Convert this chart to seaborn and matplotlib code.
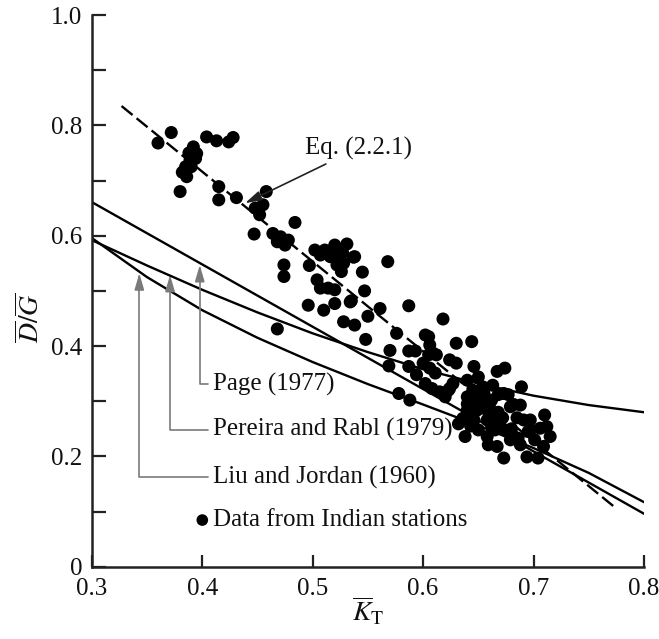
import matplotlib
matplotlib.use("Agg")
import matplotlib.pyplot as plt
import seaborn as sns
import pandas as pd

# Model curves, sampled on a common clearness-index grid
k_grid = [0.30, 0.35, 0.40, 0.45, 0.50, 0.55, 0.60, 0.65, 0.70, 0.75, 0.80]
liu_jordan = [0.596, 0.525, 0.465, 0.415, 0.371, 0.331, 0.294, 0.256, 0.215, 0.170, 0.117]
pereira_rabl = [0.592, 0.546, 0.502, 0.461, 0.423, 0.389, 0.358, 0.332, 0.310, 0.293, 0.280]

page_k = [0.30, 0.80]
page = [0.661, 0.096]

eq_k = [0.327, 0.774]
eq_221 = [0.835, 0.107]

# Monthly-average measurements from Indian stations
station_k = [
    0.360, 0.372, 0.404, 0.413, 0.424, 0.428, 0.392, 0.395, 0.389, 0.385,
    0.386, 0.394, 0.380, 0.415, 0.415, 0.431, 0.458, 0.448, 0.452, 0.455,
    0.447, 0.484, 0.464, 0.471, 0.468, 0.475, 0.478, 0.474, 0.474, 0.497,
    0.502, 0.511, 0.520, 0.531, 0.516, 0.525, 0.522, 0.537, 0.526, 0.504,
    0.507, 0.514, 0.520, 0.496, 0.510, 0.520, 0.534, 0.528, 0.538, 0.468,
    0.538, 0.528, 0.545, 0.568, 0.547, 0.535, 0.561, 0.550, 0.587, 0.548,
    0.576, 0.618, 0.570, 0.569, 0.587, 0.593, 0.602, 0.606, 0.605, 0.612,
    0.587, 0.594, 0.606, 0.630, 0.624, 0.630, 0.644, 0.646, 0.611, 0.667,
    0.674, 0.608, 0.615, 0.624, 0.620, 0.602, 0.689, 0.636, 0.638, 0.710,
    0.673, 0.679, 0.670, 0.691, 0.658, 0.667, 0.682, 0.697, 0.712, 0.715,
    0.709, 0.673, 0.694, 0.704, 0.686, 0.578, 0.588, 0.640, 0.650, 0.654,
    0.640, 0.647, 0.654, 0.640, 0.649, 0.658, 0.646, 0.658, 0.664, 0.662,
    0.605, 0.609, 0.600, 0.627, 0.623, 0.668, 0.677, 0.682, 0.665, 0.674,
    0.697, 0.706, 0.679, 0.659, 0.650, 0.643, 0.632, 0.663, 0.688, 0.701,
    0.688, 0.645, 0.652, 0.660, 0.668, 0.655, 0.645, 0.662, 0.672, 0.685,
    0.695, 0.680, 0.640, 0.517, 0.527, 0.507, 0.388, 0.382, 0.390,
]
station_ratio = [
    0.768, 0.787, 0.779, 0.772, 0.770, 0.778, 0.761, 0.749, 0.737, 0.725,
    0.707, 0.740, 0.680, 0.689, 0.665, 0.669, 0.680, 0.650, 0.638, 0.656,
    0.603, 0.624, 0.604, 0.598, 0.589, 0.583, 0.592, 0.547, 0.526, 0.546,
    0.574, 0.574, 0.583, 0.585, 0.562, 0.559, 0.547, 0.561, 0.535, 0.520,
    0.505, 0.505, 0.502, 0.474, 0.465, 0.477, 0.480, 0.444, 0.438, 0.431,
    0.562, 0.550, 0.534, 0.553, 0.500, 0.482, 0.468, 0.454, 0.473, 0.412,
    0.423, 0.449, 0.392, 0.364, 0.391, 0.391, 0.420, 0.402, 0.384, 0.384,
    0.363, 0.348, 0.360, 0.405, 0.375, 0.369, 0.408, 0.363, 0.351, 0.354,
    0.360, 0.323, 0.317, 0.323, 0.308, 0.332, 0.326, 0.269, 0.236, 0.275,
    0.314, 0.290, 0.266, 0.266, 0.236, 0.218, 0.236, 0.248, 0.254, 0.236,
    0.218, 0.197, 0.199, 0.197, 0.233, 0.314, 0.302, 0.338, 0.344, 0.326,
    0.308, 0.302, 0.308, 0.284, 0.284, 0.284, 0.266, 0.266, 0.278, 0.302,
    0.417, 0.387, 0.369, 0.332, 0.320, 0.312, 0.312, 0.294, 0.248, 0.248,
    0.266, 0.251, 0.230, 0.221, 0.248, 0.255, 0.259, 0.329, 0.293, 0.230,
    0.221, 0.290, 0.295, 0.290, 0.280, 0.315, 0.320, 0.255, 0.270, 0.270,
    0.245, 0.250, 0.295, 0.572, 0.570, 0.565, 0.750, 0.715, 0.725,
]

x_ticks = [0.3, 0.4, 0.5, 0.6, 0.7, 0.8]
x_tick_labels = ["0.3", "0.4", "0.5", "0.6", "0.7", "0.8"]
y_ticks = [0.0, 0.2, 0.4, 0.6, 0.8, 1.0]
y_tick_labels = ["0", "0.2", "0.4", "0.6", "0.8", "1.0"]
y_minor_ticks = [0.1, 0.3, 0.5, 0.7, 0.9]

SERIF = ["Liberation Serif", "DejaVu Serif"]

sns.set_theme(style="ticks")
plt.rcParams["font.family"] = SERIF
plt.rcParams["mathtext.fontset"] = "stix"

fig = plt.figure(figsize=(6.59, 6.39), dpi=100)
ax = fig.add_axes([0.1392, 0.1131, 0.8381, 0.8634])

curves = pd.DataFrame({"K": k_grid, "LJ": liu_jordan, "PR": pereira_rabl})
line_kw = dict(color="black", linewidth=1.7, zorder=2)
sns.lineplot(data=curves, x="K", y="LJ", ax=ax, **line_kw)
sns.lineplot(data=curves, x="K", y="PR", ax=ax, **line_kw)
sns.lineplot(x=page_k, y=page, ax=ax, **line_kw)
sns.lineplot(x=eq_k, y=eq_221, ax=ax, color="black", linewidth=1.7,
             linestyle=(0, (6, 2.2)), zorder=2)

stations = pd.DataFrame({"K": station_k, "ratio": station_ratio})
sns.scatterplot(data=stations, x="K", y="ratio", ax=ax, color="black",
                s=88, edgecolor="none", zorder=3)

# Key for the measured points
sns.scatterplot(x=[0.4001], y=[0.0846], ax=ax, color="black", s=70,
                edgecolor="none", zorder=3)

text_kw = dict(fontsize=18, ha="left", va="center", color="#111111",
               family=SERIF)
ax.text(0.4095, 0.0846, "Data from Indian stations", **text_kw)

callout = dict(arrowstyle="-|>,head_length=0.55,head_width=0.16",
               color="#7a7a7a", lw=1.2, shrinkA=1, shrinkB=0,
               connectionstyle="angle,angleA=0,angleB=90,rad=0")
ax.annotate("Page (1977)", xy=(0.3978, 0.547), xytext=(0.4095, 0.331),
            arrowprops=callout, **text_kw)
ax.annotate("Pereira and Rabl (1979)", xy=(0.3709, 0.529),
            xytext=(0.4095, 0.248), arrowprops=callout, **text_kw)
ax.annotate("Liu and Jordan (1960)", xy=(0.3431, 0.532),
            xytext=(0.4095, 0.162), arrowprops=callout, **text_kw)
ax.annotate("Eq. (2.2.1)", xy=(0.4388, 0.659), xytext=(0.4935, 0.759),
            arrowprops=dict(arrowstyle="-|>,head_length=0.55,head_width=0.16",
                            color="#222222", lw=1.2, shrinkA=2, shrinkB=0),
            **text_kw)

ax.set_xlim(0.3, 0.8)
ax.set_ylim(0.0, 1.0)
ax.set_xticks(x_ticks)
ax.set_xticklabels(x_tick_labels, family=SERIF, fontsize=18)
ax.set_yticks(y_ticks)
ax.set_yticklabels(y_tick_labels, family=SERIF, fontsize=18)
ax.set_yticks(y_minor_ticks, minor=True)

ax.tick_params(axis="both", which="both", direction="in", width=1.6,
               color="#222222", labelcolor="#111111")
ax.tick_params(axis="y", which="both", length=10, pad=7)
ax.tick_params(axis="x", which="major", length=8.5, pad=8)

for side in ("top", "right"):
    ax.spines[side].set_visible(False)
for side in ("left", "bottom"):
    ax.spines[side].set_linewidth(1.8)
    ax.spines[side].set_color("#222222")

ax.set_xlabel(r"$\overline{K}_{\mathrm{T}}$", fontsize=20, color="#111111")
ax.set_ylabel(r"$\overline{D}/\overline{G}$", fontsize=20, color="#111111")
ax.xaxis.set_label_coords(0.5, -0.052)
ax.yaxis.set_label_coords(-0.085, 0.451)

fig.savefig("out.png", dpi=100, facecolor="white")
